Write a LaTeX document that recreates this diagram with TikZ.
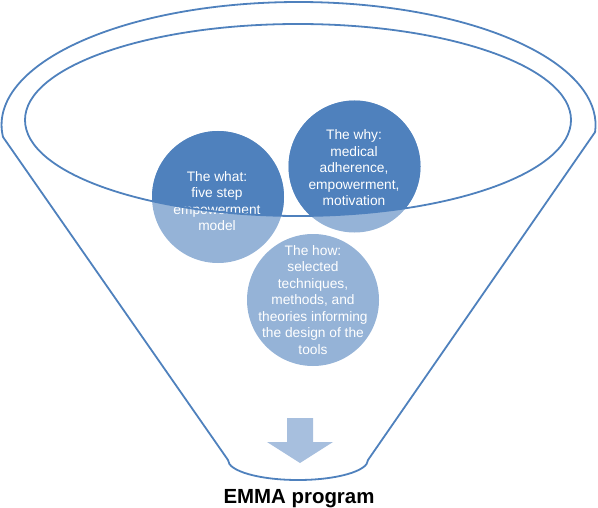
\documentclass[tikz,border=0pt]{standalone}
\usepackage{fontspec}
\setmainfont{Liberation Sans}
\definecolor{funnelblue}{HTML}{4F81BD}
\definecolor{lightblue}{HTML}{95B3D7}
\definecolor{arrowblue}{HTML}{A7BFDE}
\begin{document}
\begin{tikzpicture}[x=1bp, y=-1bp, line cap=round, line join = round, font=\fontsize{13.8}{16.6}\selectfont,
  circletext/.style={text=white, align=center, inner sep=0pt},
  funnelline/.style={draw=funnelblue, line width=1.8bp}]
\useasboundingbox (0,0) rectangle (598,508);
\coordinate (what) at (218,197);
\coordinate (why) at (354.5,166.5);
\coordinate (how) at (313,300);

\foreach \c in {what,why,how}
\fill[lightblue] (\c) circle (66);
\begin{scope}
\clip (298,120) ellipse (273 and 96);
\foreach \c in {what,why,how}
\fill[funnelblue] (\c) circle (66);
\end{scope}

\node[circletext] (whattext) at (217,201) {The what:\\five step\\empowerment\\model};
\node[circletext] (whytext) at (354,168) {The why:\\medical\\adherence,\\empowerment,\\motivation};
\node[circletext] (howtext) at (313,300) {The how:\\selected\\techniques,\\methods, and\\theories informing\\the design of the\\tools};

\draw[funnelline] (298,120) ellipse (273 and 96);
\draw[funnelline] (3,137) arc[start angle=174.4, end angle=363.3, x radius=297, y radius=123]
  -- (368,460) arc[start angle=0, end angle=180, x radius=70, y radius=20] -- cycle;

\fill[arrowblue] (287,418) -- (313,418) -- (313,442) -- (333,442) -- (300,463) -- (267,442) -- (287,442) -- cycle;
\node[font=\fontsize{20.5}{24}\selectfont\bfseries, anchor=base, inner sep=0pt] (emma) at (299,503) {EMMA program};
\end{tikzpicture}
\end{document}
